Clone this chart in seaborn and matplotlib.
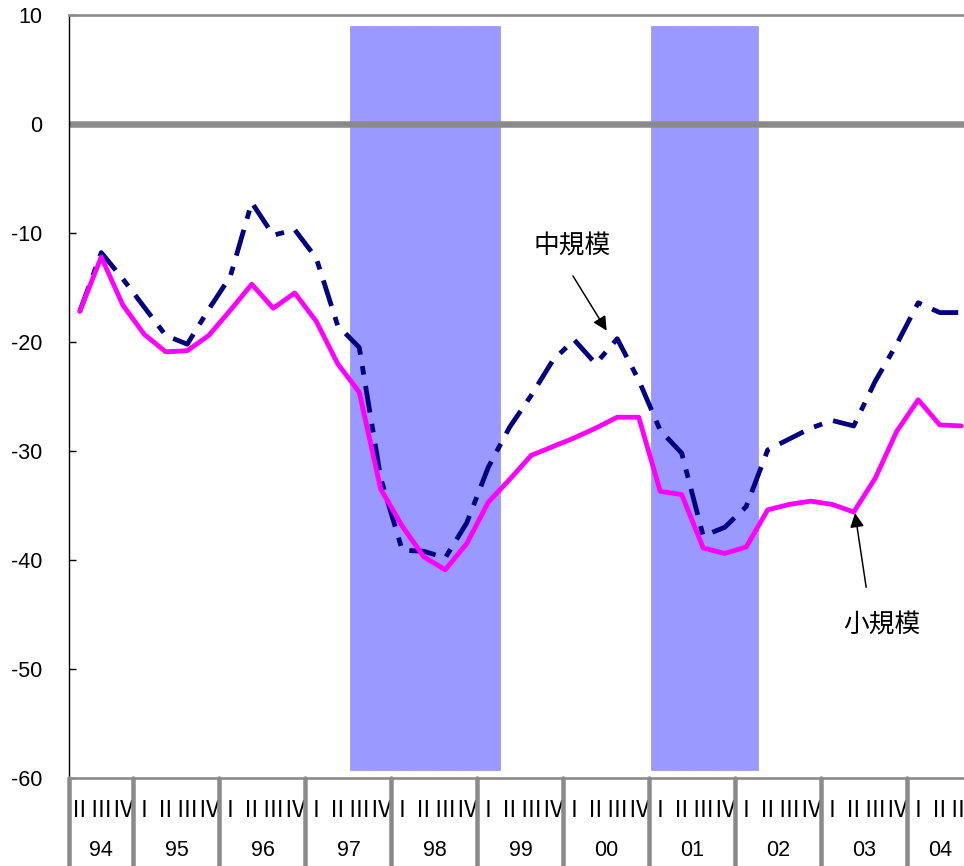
import matplotlib
matplotlib.use("Agg")
import matplotlib.pyplot as plt
import matplotlib.transforms as mtransforms
from matplotlib.lines import Line2D
import numpy as np
import pandas as pd
import seaborn as sns

# Quarterly business-condition index (DI), 1994 Q2 - 2004 Q3
years = ["94", "95", "96", "97", "98", "99", "00", "01", "02", "03", "04"]
quarters_in_year = [3, 4, 4, 4, 4, 4, 4, 4, 4, 4, 3]
quarter_labels = (["Ⅱ", "Ⅲ", "Ⅳ"] + ["Ⅰ", "Ⅱ", "Ⅲ", "Ⅳ"] * 9 + ["Ⅰ", "Ⅱ", "Ⅲ"])

medium = [-17.2, -11.8, -14.2, -16.8, -19.4, -20.2, -17.0, -14.0, -7.2, -10.2,
          -9.7, -12.3, -18.5, -20.5, -32.5, -39.1, -39.2, -39.8, -36.6, -31.5,
          -27.8, -24.9, -21.7, -19.8, -22.0, -19.7, -23.5, -28.1, -30.2, -37.8,
          -37.0, -35.1, -29.9, -28.9, -27.9, -27.2, -27.7, -23.6, -20.2, -16.4,
          -17.3, -17.3]
small = [-17.2, -12.2, -16.6, -19.3, -20.9, -20.8, -19.4, -17.1, -14.7, -16.9,
         -15.5, -18.1, -22.0, -24.6, -33.5, -36.9, -39.7, -40.9, -38.5, -34.7,
         -32.6, -30.4, -29.6, -28.8, -27.9, -26.9, -26.9, -33.7, -34.0, -38.9,
         -39.4, -38.8, -35.4, -34.9, -34.6, -34.9, -35.6, -32.5, -28.2, -25.3,
         -27.6, -27.7]
# recession quarters (shaded)
recession = [0] * 13 + [1] * 7 + [0] * 7 + [1] * 5 + [0] * 10
shade_top, shade_bottom = 9.0, -59.3

idx = np.arange(len(medium))
df = pd.DataFrame({"q": idx, "medium": medium, "small": small, "rec": recession})

sns.set_theme(style="white")
plt.rcParams["font.family"] = ["Liberation Sans", "Noto Sans CJK JP", "DejaVu Sans"]
plt.rcParams["axes.unicode_minus"] = False

W, H = 964, 866
fig = plt.figure(figsize=(W / 100, H / 100), dpi=100)
ax_left, ax_right, ax_top, ax_bottom = 69, 964, 15, 778
ax = fig.add_axes([ax_left / W, (H - ax_bottom) / H,
                   (ax_right - ax_left) / W, (ax_bottom - ax_top) / H])

px = 72 / 100  # points per pixel

# shaded periods
rec = df[df["rec"] == 1]
ax.bar(rec["q"] + 0.06, shade_top - shade_bottom, bottom=shade_bottom, width=1.0,
       color="#9999FF", edgecolor="#9999FF", linewidth=0.6, zorder=1)

# zero line
ax.axhline(0, color="#8a8a8a", lw=6.5 * px, zorder=2)

sns.lineplot(data=df, x="q", y="medium", color="#000080", lw=4.8 * px,
             linestyle=(0, (5.6, 2.4, 1.8, 2.4)), ax=ax, zorder=3)
sns.lineplot(data=df, x="q", y="small", color="#FF00FF", lw=4.8 * px,
             ax=ax, zorder=4)

ax.set_xlim(-0.5, 41.13)
ax.set_ylim(-60, 10)
ax.set_xlabel("")
ax.set_ylabel("")
ax.set_xticks([])
ax.set_yticks(range(-60, 11, 10))
ax.set_yticklabels([str(v) for v in range(-60, 11, 10)], fontsize=15.5)
ax.tick_params(axis="y", direction="in", length=5, width=1, color="black",
               pad=19, left=True, labelcolor="black")

for side in ["top", "bottom"]:
    ax.spines[side].set_color("#8a8a8a")
    ax.spines[side].set_linewidth(2.6 * px)
ax.spines["left"].set_color("black")
ax.spines["left"].set_linewidth(1.4 * px)
ax.spines["right"].set_visible(False)

# category axis below the plot: quarters, years, separators
trans = mtransforms.blended_transform_factory(ax.transData, ax.transAxes)
for i, lab in enumerate(quarter_labels):
    ax.text(i, -0.043, lab, transform=trans, ha="center", va="center",
            fontsize=16.5, family=["Noto Sans CJK JP", "DejaVu Sans"],
            color="black", clip_on=False)

start = 0
for yr, n in zip(years, quarters_in_year):
    ax.text(start + (n - 1) / 2, -0.0953, yr, transform=trans, ha="center",
            va="center", fontsize=15.5, color="black", clip_on=False)
    ax.add_line(Line2D([start - 0.5, start - 0.5], [0, -0.13], transform=trans,
                       color="#8a8a8a", lw=4.5 * px, clip_on=False, zorder=5))
    start += n

# annotations
arrow = dict(arrowstyle="-|>", color="black", lw=1.5 * px, mutation_scale=21,
             shrinkA=0, shrinkB=0)
ax.annotate("", xy=(24.51, -18.96), xytext=(22.94, -13.94), arrowprops=arrow,
            zorder=6)
ax.text(22.9, -11.2, "中規模", ha="center", va="center", fontsize=18.5,
        family=["Noto Sans CJK JP", "DejaVu Sans"], color="black")
ax.annotate("", xy=(36.06, -35.7), xytext=(36.58, -42.5), arrowprops=arrow,
            zorder=6)
ax.text(37.31, -46.06, "小規模", ha="center", va="center", fontsize=18.5,
        family=["Noto Sans CJK JP", "DejaVu Sans"], color="black")

fig.savefig("out.png", dpi=100)
